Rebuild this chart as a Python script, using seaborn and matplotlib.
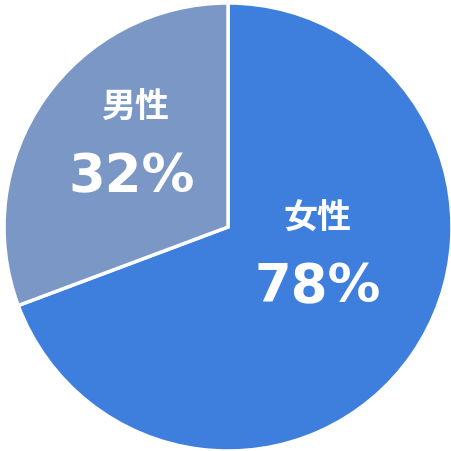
import matplotlib
matplotlib.use("Agg")
import matplotlib.pyplot as plt
import seaborn as sns

# data
categories = ["女性", "男性"]
wedge_sizes = [69.3, 30.7]          # angular share
pct_labels = ["78%", "32%"]         # printed labels
colors = ["#3E7FDE", "#7A97C5"]

sns.set_theme(style="white")
plt.rcParams['font.family'] = ['Noto Sans CJK JP', 'DejaVu Sans']

fig = plt.figure(figsize=(4.52, 4.51), dpi=100)
ax = fig.add_axes([0, 0, 1, 1])
palette = sns.color_palette(colors)
ax.pie(wedge_sizes, colors=palette, startangle=90, counterclock=False,
       radius=1.0, wedgeprops=dict(edgecolor="white", linewidth=2.5))
ax.set_aspect("auto")
ax.set_xlim(-1.018, 1.0)
ax.set_ylim(-1.0, 1.0134)
ax.axis("off")

pos = {"女性": ((0.40, 0.04), (0.40, -0.27)),
       "男性": ((-0.415, 0.536), (-0.43, 0.22))}
for cat, pct in zip(categories, pct_labels):
    (x1, y1), (x2, y2) = pos[cat]
    ax.text(x1, y1, cat, color="white", fontsize=24.5, fontweight="bold",
            ha="center", va="center")
    ax.text(x2, y2, pct, color="white", fontsize=38, fontweight="bold",
            ha="center", va="center", family=["DejaVu Sans"])

fig.savefig("out.png", dpi=100, facecolor="white")
